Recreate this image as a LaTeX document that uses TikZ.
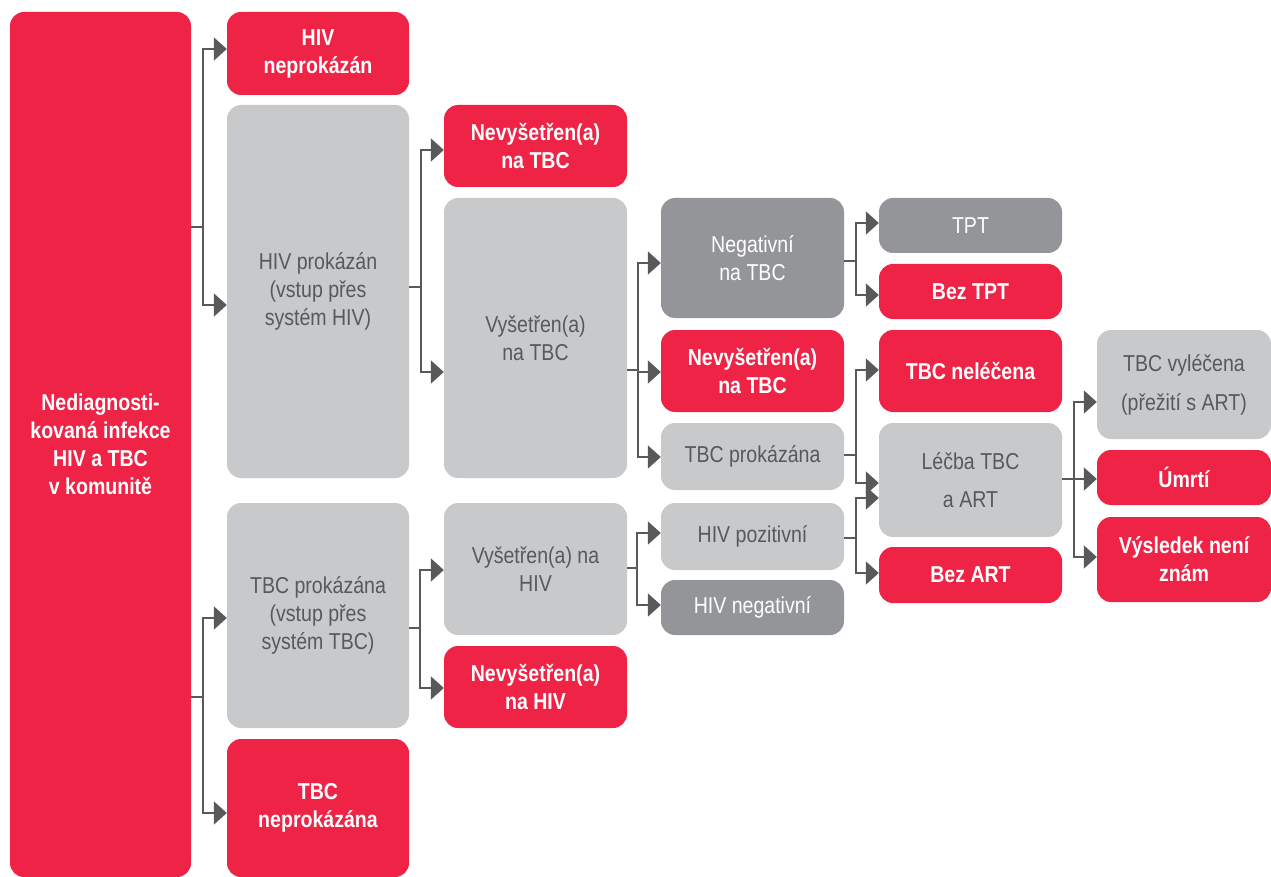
\documentclass[tikz,border=0pt]{standalone}
\usepackage{fontspec}
\setmainfont{Liberation Sans}[FakeStretch=0.85]
\usetikzlibrary{arrows.meta}
\definecolor{cred}{HTML}{EE2346}
\definecolor{clight}{HTML}{C8C9CB}
\definecolor{cdark}{HTML}{939598}
\definecolor{cline}{HTML}{58595B}
\tikzset{
  box/.style={rounded corners=14pt, inner sep=0pt, align=center, font=\fontsize{23}{28}\selectfont},
  redbox/.style={box, fill=cred, text=white, font=\fontsize{23}{28}\selectfont\bfseries},
  lightbox/.style={box, fill=clight, text=cline},
  darkbox/.style={box, fill=cdark, text=white},
  link/.style={draw=cline, line width=2pt},
  arr/.style={link, -{Triangle[length=13pt,width=23pt]}},
}
\newcommand{\bx}[7]{\node[#1, minimum width={(#4)-(#2)}, minimum height={(#5)-(#3)}] (#6) at ({((#2)+(#4))/2},{((#3)+(#5))/2}) {#7};}
\begin{document}
\begin{tikzpicture}[x=1pt,y=-1pt]
\clip (0,0) rectangle (1271,877);
\fill[white] (0,0) rectangle (1271,877);
% column 1
\bx{redbox}{10}{12}{191}{877}{big}{Nediagnosti-\\kovaná infekce\\HIV a TBC\\v komunitě}
% column 2
\bx{redbox}{227}{12}{409}{95}{hivneg}{HIV\\neprokázán}
\bx{lightbox}{227}{105}{409}{478}{hivpos}{HIV prokázán\\(vstup přes\\systém HIV)}
\bx{lightbox}{227}{503}{409}{728}{tbcpos}{TBC prokázána\\(vstup přes\\systém TBC)}
\bx{redbox}{227}{739}{409}{877}{tbcneg}{TBC\\neprokázána}
% column 3
\bx{redbox}{444}{105}{627}{187}{nevtbcA}{Nevyšetřen(a)\\na TBC}
\bx{lightbox}{444}{198}{627}{478}{vystbc}{Vyšetřen(a)\\na TBC}
\bx{lightbox}{444}{503}{627}{635}{vyshiv}{Vyšetřen(a) na\\HIV}
\bx{redbox}{444}{646}{627}{728}{nevhiv}{Nevyšetřen(a)\\na HIV}
% column 4
\bx{darkbox}{661}{198}{844}{318}{negtbc}{Negativní\\na TBC}
\bx{redbox}{661}{330}{844}{412}{nevtbcB}{Nevyšetřen(a)\\na TBC}
\bx{lightbox}{661}{423}{844}{490}{tbcposB}{TBC prokázána}
\bx{lightbox}{661}{503}{844}{570}{hivpoz}{HIV pozitivní}
\bx{darkbox}{661}{580}{844}{635}{hivnegat}{HIV negativní}
% column 5
\bx{darkbox}{879}{198}{1062}{253}{tpt}{TPT}
\bx{redbox}{879}{264}{1062}{319}{beztpt}{Bez TPT}
\bx{redbox}{879}{330}{1062}{412}{nelec}{TBC neléčena}
\bx{lightbox,font=\fontsize{23}{38}\selectfont}{879}{423}{1062}{537}{lecba}{Léčba TBC\\a ART}
\bx{redbox}{879}{547}{1062}{603}{bezart}{Bez ART}
% column 6
\bx{lightbox,font=\fontsize{23}{39}\selectfont}{1097}{330}{1271}{439}{vylec}{TBC vyléčena\\(přežití s ART)}
\bx{redbox}{1097}{450}{1271}{505}{umrti}{Úmrtí}
\bx{redbox}{1097}{517}{1271}{602}{vysl}{Výsledek není\\znám}
% connectors
\draw[arr] (big.east |- 0,227) -- ++(12,0) |- (hivneg.west |- 0,49);
\draw[arr] (big.east |- 0,227) -- ++(12,0) |- (hivpos.west |- 0,305);
\draw[arr] (big.east |- 0,697) -- ++(12,0) |- (tbcpos.west |- 0,618);
\draw[arr] (big.east |- 0,697) -- ++(12,0) |- (tbcneg.west |- 0,813);
\draw[arr] (hivpos.east |- 0,287) -- ++(12,0) |- (nevtbcA.west |- 0,150);
\draw[arr] (hivpos.east |- 0,287) -- ++(12,0) |- (vystbc.west |- 0,372);
\draw[arr] (tbcpos.east |- 0,628) -- ++(11,0) |- (vyshiv.west |- 0,570);
\draw[arr] (tbcpos.east |- 0,628) -- ++(11,0) |- (nevhiv.west |- 0,688);
\draw[arr] (vystbc.east |- 0,370) -- ++(11,0) |- (negtbc.west |- 0,263);
\draw[arr] (vystbc.east |- 0,370) -- ++(11,0) |- (nevtbcB.west |- 0,372);
\draw[arr] (vystbc.east |- 0,370) -- ++(11,0) |- (tbcposB.west |- 0,457);
\draw[arr] (vyshiv.east |- 0,568) -- ++(10,0) |- (hivpoz.west |- 0,533);
\draw[arr] (vyshiv.east |- 0,568) -- ++(10,0) |- (hivnegat.west |- 0,605);
\draw[arr] (negtbc.east |- 0,261) -- ++(12,0) |- (tpt.west |- 0,223);
\draw[arr] (negtbc.east |- 0,261) -- ++(12,0) |- (beztpt.west |- 0,295);
\draw[arr] (tbcposB.east |- 0,455) -- ++(12,0) |- (nelec.west |- 0,370);
\draw[arr] (tbcposB.east |- 0,455) -- ++(12,0) |- (lecba.west |- 0,483);
\draw[arr] (hivpoz.east |- 0,538) -- ++(12,0) |- (lecba.west |- 0,498);
\draw[arr] (hivpoz.east |- 0,538) -- ++(12,0) |- (bezart.west |- 0,573);
\draw[arr] (lecba.east |- 0,479) -- ++(12,0) |- (vylec.west |- 0,402);
\draw[arr] (lecba.east |- 0,479) -- ++(12,0) |- (umrti.west |- 0,479);
\draw[arr] (lecba.east |- 0,479) -- ++(12,0) |- (vysl.west |- 0,557);
\end{tikzpicture}
\end{document}
